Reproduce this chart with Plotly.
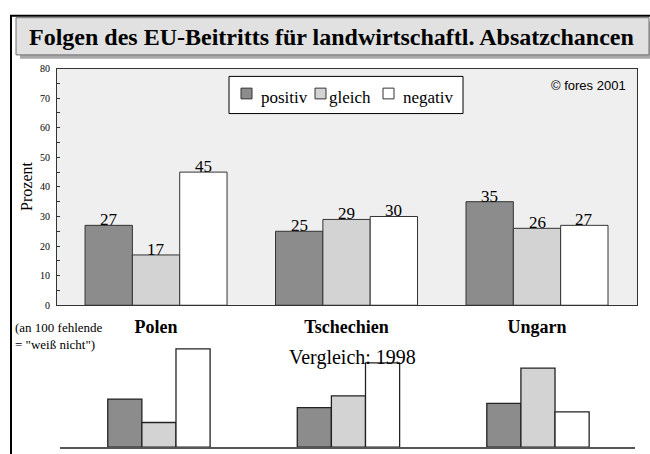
import plotly.graph_objects as go

# ---------------- data ----------------
categories = ["Polen", "Tschechien", "Ungarn"]
series_names = ["positiv", "gleich", "negativ"]

positiv_2001 = [27, 25, 35]
gleich_2001 = [17, 29, 26]
negativ_2001 = [45, 30, 27]

# 1998 comparison (no axis in the original)
positiv_1998 = [22.5, 18.5, 20.5]
gleich_1998 = [11.5, 24, 37]
negativ_1998 = [46, 39.5, 16.5]

y_tick_values = [0, 10, 20, 30, 40, 50, 60, 70, 80]

# ---------------- styling ----------------
W, H = 650, 454
SERIF = "Liberation Serif, Times New Roman, serif"
SANS = "Liberation Sans, Arial, sans-serif"
colors = {"positiv": "#8c8c8c", "gleich": "#d3d3d3", "negativ": "#ffffff"}


def px(x):
    return x / W


def py(y):
    return 1 - y / H


fig = go.Figure()

w_top = 0.2485
w_low = 0.180
offsets = [-1.5, -0.5, 0.5]

annotations = []

for name, vals, off in zip(series_names, [positiv_2001, gleich_2001, negativ_2001], offsets):
    fig.add_trace(go.Bar(
        x=categories, y=vals, name=name,
        xaxis="x", yaxis="y",
        width=w_top, offset=off * w_top,
        marker=dict(color=colors[name], line=dict(color="#333333", width=1)),
        showlegend=False, hoverinfo="x+y+name",
    ))
    # value labels sitting on the bar tops
    for i, v in enumerate(vals):
        annotations.append(dict(
            text=str(v), x=i + (off + 0.5) * w_top, y=v, xref="x", yref="y",
            xanchor="center", yanchor="bottom", yshift=-6, showarrow=False,
            font=dict(family=SERIF, size=17, color="black")))

for name, vals, off in zip(series_names, [positiv_1998, gleich_1998, negativ_1998], offsets):
    fig.add_trace(go.Bar(
        x=categories, y=vals, name=name + " 1998",
        xaxis="x2", yaxis="y2",
        width=w_low, offset=off * w_low,
        marker=dict(color=colors[name], line=dict(color="#222222", width=1.3)),
        showlegend=False, hoverinfo="x+y+name",
    ))

shapes = [
    # outer frame
    dict(type="rect", xref="paper", yref="paper", x0=px(11), x1=px(662), y0=py(11), y1=py(470),
         line=dict(color="black", width=2), fillcolor="rgba(0,0,0,0)", layer="above"),
    # title shadow
    dict(type="rect", xref="paper", yref="paper", x0=px(20), x1=px(662), y0=py(17), y1=py(55),
         line=dict(width=0), fillcolor="#a9a9a9", layer="below"),
    # title box
    dict(type="rect", xref="paper", yref="paper", x0=px(16), x1=px(649), y0=py(13), y1=py(51),
         line=dict(color="#6e6e6e", width=1), fillcolor="#e1e1e1", layer="below"),
    # plot background of the 2001 chart
    dict(type="rect", xref="x domain", yref="y domain", x0=0, x1=1, y0=0, y1=1,
         line=dict(width=0), fillcolor="#efefef", layer="below"),
    # legend box
    dict(type="rect", xref="paper", yref="paper", x0=px(229), x1=px(463), y0=py(73), y1=py(111),
         line=dict(color="black", width=1), fillcolor="white", layer="above"),
]

legend_square_x = [241, 315, 383]
legend_text_x = [259, 327, 401]
for name, sx, tx in zip(series_names, legend_square_x, legend_text_x):
    shapes.append(dict(type="rect", xref="paper", yref="paper", x0=px(sx), x1=px(sx + 11),
                       y0=py(85), y1=py(96), line=dict(color="#333333", width=1),
                       fillcolor=colors[name], layer="above"))
    annotations.append(dict(text=name, x=px(tx), y=py(95), xref="paper", yref="paper",
                            xanchor="left", yanchor="middle", showarrow=False,
                            font=dict(family=SERIF, size=17, color="black")))

annotations += [
    dict(text="<b>Folgen des EU-Beitritts für landwirtschaftl. Absatzchancen</b>",
         x=px(331), y=py(33), xref="paper", yref="paper", showarrow=False,
         xanchor="center", yanchor="middle", font=dict(family=SERIF, size=24, color="black")),
    dict(text="© fores 2001", x=px(549), y=py(82), xref="paper", yref="paper", showarrow=False,
         xanchor="left", yanchor="middle", font=dict(family=SANS, size=13, color="black")),
    dict(text="Prozent", x=px(27), y=py(186), xref="paper", yref="paper", showarrow=False,
         textangle=-90, xanchor="center", yanchor="middle",
         font=dict(family=SERIF, size=16, color="black")),
    dict(text="(an 100 fehlende<br>= \"weiß nicht\")", x=px(13), y=py(338), xref="paper",
         yref="paper", showarrow=False, align="left",
         xanchor="left", yanchor="middle", font=dict(family=SERIF, size=13, color="black")),
    dict(text="Vergleich: 1998", x=px(352), y=py(360), xref="paper", yref="paper", showarrow=False,
         xanchor="center", yanchor="middle", font=dict(family=SERIF, size=20, color="black")),
]

fig.update_layout(
    width=W, height=H, autosize=False,
    margin=dict(l=0, r=0, t=0, b=0),
    paper_bgcolor="white", plot_bgcolor="rgba(0,0,0,0)",
    barmode="overlay",
    shapes=shapes, annotations=annotations,
    xaxis=dict(domain=[px(57), px(637)], anchor="y", range=[-0.52, 2.525],
               showline=True, mirror=True, linecolor="#333333", linewidth=1,
               ticks="", showgrid=False, ticklabelstandoff=5,
               tickfont=dict(family=SERIF, size=18, color="black", weight="bold")),
    yaxis=dict(domain=[py(307), py(65)], anchor="x", range=[0, 80],
               tickvals=y_tick_values, ticks="inside", ticklen=3, tickcolor="#333333",
               minor=dict(dtick=5, ticks="inside", ticklen=3, tickcolor="#333333", showgrid=False),
               showline=True, mirror=True, linecolor="#333333", linewidth=1,
               showgrid=False, zeroline=False, ticklabelstandoff=4,
               tickfont=dict(family=SERIF, size=10, color="black")),
    xaxis2=dict(domain=[px(60), px(635)], anchor="y2", range=[-0.522, 2.512],
                showline=True, linecolor="#555555", linewidth=1.5, ticks="",
                showticklabels=False, showgrid=False),
    yaxis2=dict(domain=[py(452), py(343)], anchor="x2", range=[0, 50], visible=False),
)

fig.write_html(
    "out.html",
    config={"displayModeBar": False, "responsive": False},
    post_script=(
        "document.documentElement.style.margin='0';"
        "document.body.style.margin='0';"
        "document.body.style.overflow='hidden';"
        "var d=document.getElementById('{plot_id}');"
        "d.style.position='fixed';d.style.top='0px';d.style.left='0px';"
    ),
)
